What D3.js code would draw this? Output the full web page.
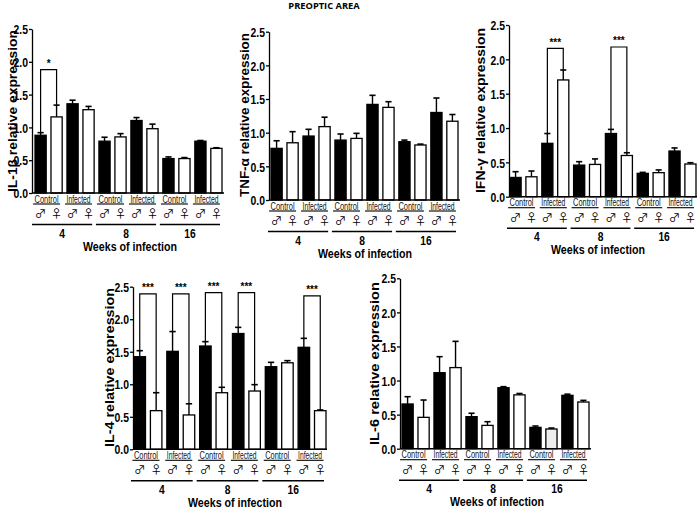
<!DOCTYPE html>
<html><head><meta charset="utf-8">
<script src="https://cdn.jsdelivr.net/npm/d3@7"></script>
<style>
body{margin:0;background:#fff;}
svg{display:block;}
</style></head><body>
<svg id="c" width="700" height="511" font-family="'Liberation Sans', Arial, sans-serif"></svg>
<script>
// ---- data ----
const groups = ["Control","Infected","Control","Infected","Control","Infected"];
const sexes = ["♂","♀","♂","♀","♂","♀","♂","♀","♂","♀","♂","♀"];
const weeks = ["4","8","16"];
const yTicks = [0,0.5,1.0,1.5,2.0,2.5];

const il1bMean = [0.88,1.16,1.36,1.27,0.79,0.855,1.105,0.98,0.525,0.525,0.79,0.68];
const il1bSem  = [0.04,0.18,0.055,0.05,0.06,0.05,0.045,0.07,0.025,0.015,0.01,0.01];
const il1bSig  = [{a:0,b:1,y:1.88,t:"*"}];

const tnfMean = [0.767,0.85,0.95,1.09,0.89,0.915,1.42,1.376,0.866,0.817,1.30,1.17];
const tnfSem  = [0.113,0.165,0.10,0.14,0.09,0.075,0.135,0.084,0.024,0.013,0.215,0.10];
const tnfSig  = [];

const ifnMean = [0.28,0.29,0.777,1.70,0.46,0.47,0.92,0.60,0.34,0.35,0.665,0.476];
const ifnSem  = [0.084,0.084,0.143,0.145,0.05,0.08,0.06,0.04,0.014,0.04,0.045,0.019];
const ifnSig  = [{a:2,b:3,y:2.16,t:"***"},{a:6,b:7,y:2.18,t:"***"}];

const il4Mean = [1.424,0.594,1.506,0.528,1.588,0.87,1.78,0.896,1.27,1.33,1.568,0.594];
const il4Sem  = [0.092,0.276,0.304,0.172,0.067,0.083,0.095,0.098,0.067,0.033,0.138,0.011];
const il4Sig  = [{a:0,b:1,y:2.39,t:"***"},{a:2,b:3,y:2.39,t:"***"},{a:4,b:5,y:2.41,t:"***"},{a:6,b:7,y:2.41,t:"***"},{a:10,b:11,y:2.36,t:"***"}];

const il6Mean = [0.656,0.46,1.115,1.19,0.47,0.342,0.895,0.79,0.313,0.289,0.783,0.685];
const il6Sem  = [0.107,0.254,0.235,0.385,0.05,0.054,0.015,0.02,0.02,0.014,0.017,0.024];
const il6Sig  = [];

// ---- layout ----
const panels = [
 {label:"IL-1β relative expression", mean:il1bMean, sem:il1bSem, sig:il1bSig, ax:32, bx0:35, bx1:222, axEnd:224, y0:193, yTop:29, labX:13, labA:30, labB:192, wx:130},
 {label:"TNF-α relative expression", mean:tnfMean, sem:tnfSem, sig:tnfSig, ax:269, bx0:271, bx1:458, axEnd:460, y0:200, yTop:31.7, labX:245, labA:33, labB:197, wx:365},
 {label:"IFN-γ relative expression", mean:ifnMean, sem:ifnSem, sig:ifnSig, ax:509, bx0:510, bx1:696, axEnd:697, y0:196.7, yTop:25, labX:481, labA:28, labB:193, wx:598},
 {label:"IL-4 relative expression", mean:il4Mean, sem:il4Sem, sig:il4Sig, ax:133, bx0:134, bx1:326, axEnd:327, y0:449.3, yTop:286.7, labX:110, labA:288, labB:447, wx:235},
 {label:"IL-6 relative expression", mean:il6Mean, sem:il6Sem, sig:il6Sig, ax:400, bx0:402, bx1:589, axEnd:591, y0:448.7, yTop:278.3, labX:375, labA:282, labB:445, wx:497}
];

function narrow(sel, f) {
  sel.each(function(){
    const L = this.getComputedTextLength();
    d3.select(this).attr("textLength", L*f).attr("lengthAdjust","spacingAndGlyphs");
  });
  return sel;
}

const svg = d3.select("#c");
svg.append("text").attr("x",324).attr("y",9).attr("text-anchor","middle")
  .attr("font-family","'Open Sans',sans-serif").attr("font-weight","bold").attr("font-size",9.3)
  .text("PREOPTIC AREA");

panels.forEach(p => {
  const g = svg.append("g");
  const idx = d3.range(12);
  const x = d3.scaleBand().domain(idx).range([p.bx0, p.bx1]).paddingInner(0.3).paddingOuter(0);
  const y = d3.scaleLinear().domain([0,2.5]).range([p.y0, p.yTop]);

  // y axis
  const yAxis = d3.axisLeft(y).tickValues(yTicks).tickFormat(d3.format(".1f")).tickSize(3).tickSizeOuter(0);
  const ya = g.append("g").attr("transform",`translate(${p.ax},0)`).call(yAxis);
  ya.attr("font-family",null).attr("font-size",null);
  ya.select(".domain").attr("stroke","#000").attr("stroke-width",1.3);
  ya.selectAll(".tick line").attr("stroke","#000").attr("stroke-width",1.3);
  const tt = ya.selectAll(".tick text").attr("font-weight","bold").attr("font-size",13).attr("fill","#000").attr("x",-4).attr("dy","0.36em");
  narrow(tt, 0.8);

  // bars
  g.selectAll("rect.bar").data(idx).join("rect")
    .attr("x", i => x(i)).attr("width", x.bandwidth())
    .attr("y", i => y(p.mean[i])).attr("height", i => y(0) - y(p.mean[i]))
    .attr("fill", i => i % 2 === 0 ? "#000" : (p.label.startsWith("IL-6") && i===9 ? "#eeeeee" : "#fff"))
    .attr("stroke","#000").attr("stroke-width",1.3);

  // error bars (upper)
  const cap = x.bandwidth()*0.55;
  idx.forEach(i => {
    const cx = x(i) + x.bandwidth()/2;
    const top = y(p.mean[i] + p.sem[i]);
    g.append("line").attr("x1",cx).attr("x2",cx).attr("y1",y(p.mean[i])).attr("y2",top).attr("stroke","#000").attr("stroke-width",1.4);
    g.append("line").attr("x1",cx-cap/2).attr("x2",cx+cap/2).attr("y1",top).attr("y2",top).attr("stroke","#000").attr("stroke-width",1.6);
  });

  // x axis line
  g.append("line").attr("x1",p.ax).attr("x2",p.axEnd).attr("y1",y(0)).attr("y2",y(0)).attr("stroke","#000").attr("stroke-width",1.4);

  // significance brackets
  p.sig.forEach(s => {
    const xa = x(s.a) + x.bandwidth()/2, xb = x(s.b) + x.bandwidth()/2;
    const yb = y(s.y);
    g.append("path").attr("fill","none").attr("stroke","#000").attr("stroke-width",1.2)
      .attr("d",`M${xa},${y(p.mean[s.a]+p.sem[s.a])}V${yb}H${xb}V${y(p.mean[s.b]+p.sem[s.b])}`);
    g.append("text").attr("x",(xa+xb)/2).attr("y",yb-2.5).attr("text-anchor","middle")
      .attr("font-weight","bold").attr("font-size",10).attr("fill","#000").text(s.t);
  });

  // group labels (Control / Infected)
  groups.forEach((lab,k) => {
    const xl = x(2*k), xr = x(2*k+1) + x.bandwidth();
    const cx = (xl+xr)/2 - 2;
    const t = g.append("text").attr("x",cx).attr("y",p.y0+9.5).attr("text-anchor","middle")
      .attr("font-size",10).attr("fill","#111").text(lab);
    t.attr("textLength",24).attr("lengthAdjust","spacingAndGlyphs");
    g.append("line").attr("x1",cx-13.5).attr("x2",cx+13.5).attr("y1",p.y0+11).attr("y2",p.y0+11).attr("stroke","#000").attr("stroke-width",1.1);
  });

  // sex symbols
  sexes.forEach((s,i) => {
    g.append("text").attr("x", x(i)+x.bandwidth()/2).attr("y", p.y0+25).attr("text-anchor","middle")
      .attr("font-family","'Noto Sans CJK JP','DejaVu Sans',sans-serif")
      .attr("font-size",11.5).attr("fill","#000").text(s);
  });

  // weeks lines + labels
  weeks.forEach((wk,k) => {
    const xl = x(4*k) - 3, xr = x(4*k+3) + x.bandwidth() - 2;
    g.append("line").attr("x1",xl).attr("x2",xr).attr("y1",p.y0+31.5).attr("y2",p.y0+31.5).attr("stroke","#000").attr("stroke-width",1.6);
    const nt = g.append("text").attr("x",(xl+xr)/2).attr("y",p.y0+44.5).attr("text-anchor","middle")
      .attr("font-weight","bold").attr("font-size",12.5).text(wk);
    narrow(nt, 0.82);
  });

  const wt = g.append("text").attr("x",p.wx).attr("y",p.y0+57.5).attr("text-anchor","middle")
    .attr("font-weight","bold").attr("font-size",12.5).text("Weeks of infection");
  wt.attr("textLength",94).attr("lengthAdjust","spacingAndGlyphs");

  // y label
  const cy = (p.labA+p.labB)/2;
  g.append("text").attr("transform",`translate(${p.labX+4},${cy}) rotate(-90)`)
    .attr("text-anchor","middle").attr("font-weight","bold").attr("font-size",12.5)
    .attr("textLength",p.labB-p.labA).attr("lengthAdjust","spacingAndGlyphs").text(p.label);
});
</script>
</body></html>
